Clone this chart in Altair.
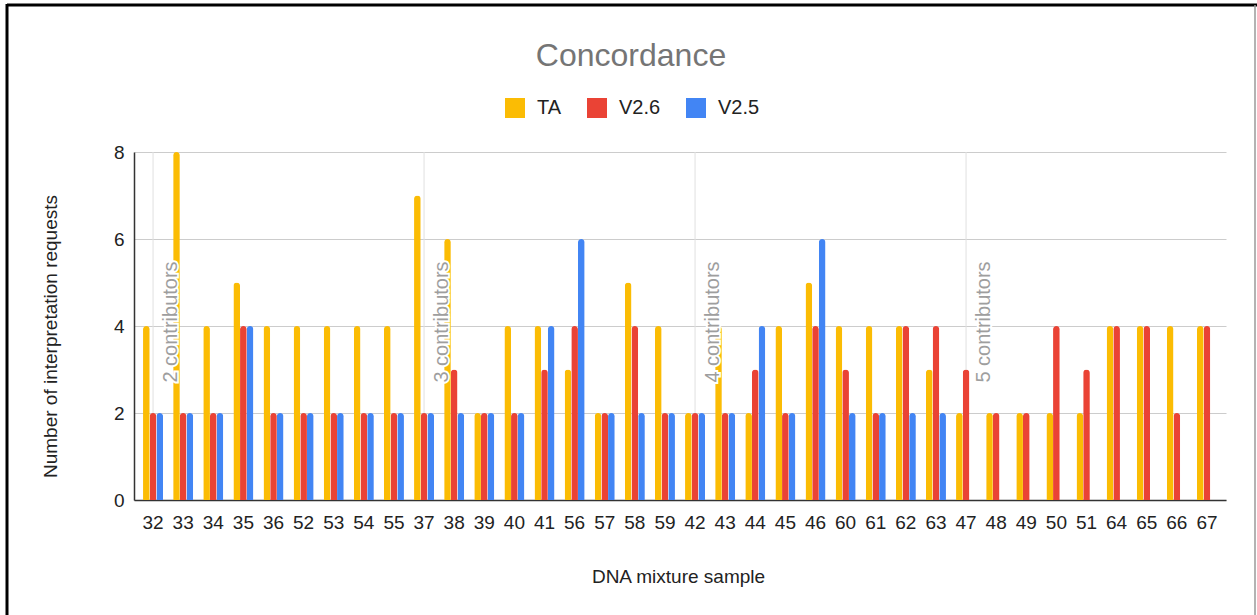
import altair as alt
import pandas as pd

samples = ["32", "33", "34", "35", "36", "52", "53", "54", "55",
           "37", "38", "39", "40", "41", "56", "57", "58", "59",
           "42", "43", "44", "45", "46", "60", "61", "62", "63",
           "47", "48", "49", "50", "51", "64", "65", "66", "67"]
ta = [4, 8, 4, 5, 4, 4, 4, 4, 4,
      7, 6, 2, 4, 4, 3, 2, 5, 4,
      2, 4, 2, 4, 5, 4, 4, 4, 3,
      2, 2, 2, 2, 2, 4, 4, 4, 4]
v26 = [2, 2, 2, 4, 2, 2, 2, 2, 2,
       2, 3, 2, 2, 3, 4, 2, 4, 2,
       2, 2, 3, 2, 4, 3, 2, 4, 4,
       3, 2, 2, 4, 3, 4, 4, 2, 4]
v25 = [2, 2, 2, 4, 2, 2, 2, 2, 2,
       2, 2, 2, 2, 4, 6, 2, 2, 2,
       2, 2, 4, 2, 6, 2, 2, 2, 2,
       None, None, None, None, None, None, None, None, None]
series_names = ["TA", "V2.6", "V2.5"]
series_colors = ["#fbbc04", "#ea4335", "#4285f4"]

group_samples = ["32", "37", "42", "47"]
group_labels = ["2 contributors", "3 contributors", "4 contributors", "5 contributors"]
group_label_y = [4, 4, 4, 4]

chart_title = "Concordance"

FONT = "Liberation Sans"
W, H = 1092, 348

rows = []
for name, vals in zip(series_names, [ta, v26, v25]):
    for s, v in zip(samples, vals):
        if v is not None:
            rows.append({"sample": s, "series": name, "value": v})
df = pd.DataFrame(rows)
groups = pd.DataFrame({"sample": group_samples, "label": group_labels, "y": group_label_y})
dummy = pd.DataFrame({"t": [chart_title]})

xscale = alt.Scale(domain=samples, paddingInner=0.335, paddingOuter=0.30)
yscale = alt.Scale(domain=[0, 8], nice=False)

x_axis = alt.Axis(title="DNA mixture sample", labelAngle=0, ticks=False,
                  labelPadding=13, labelFontSize=19, labelColor="#222222",
                  titleFontSize=19, titleColor="#222222", titleFontWeight="normal",
                  titleY=76, titleBaseline="middle", titleX=544,
                  domainColor="#333333", domainWidth=1.5, grid=False)
y_axis = alt.Axis(title="Number of interpretation requests", values=[0, 2, 4, 6, 8],
                  ticks=False, labelPadding=10, labelFontSize=19, labelColor="#222222",
                  titleFontSize=19, titleColor="#222222", titleFontWeight="normal",
                  titleX=-84, titleY=184, titleBaseline="middle", titleAngle=-90,
                  titleAlign="center",
                  domainColor="#333333", domainWidth=1.5,
                  grid=True, gridColor="#cccccc", gridWidth=1)

vgrid = alt.Chart(groups).mark_rule(color="#e0e0e0", strokeWidth=1).encode(
    x=alt.X("sample:N", scale=xscale, sort=samples, axis=x_axis),
    y=alt.value(0),
    y2=alt.value(H),
)

bars = alt.Chart(df).mark_bar(cornerRadiusEnd=3.5).encode(
    x=alt.X("sample:N", scale=xscale, sort=samples, axis=x_axis),
    xOffset=alt.XOffset("series:N", sort=series_names,
                        scale=alt.Scale(domain=series_names, paddingInner=0, paddingOuter=0)),
    y=alt.Y("value:Q", scale=yscale, axis=y_axis),
    color=alt.Color("series:N", sort=series_names,
                    scale=alt.Scale(domain=series_names, range=series_colors),
                    legend=alt.Legend(title=None, orient="none", direction="horizontal",
                                      legendX=371, legendY=-54, padding=0,
                                      symbolType="square", symbolSize=400,
                                      symbolStrokeWidth=0, symbolOpacity=1,
                                      labelFontSize=20, labelColor="#222222",
                                      labelOffset=12, columnPadding=25)),
)

halo = alt.Chart(groups).mark_text(
    angle=270, align="center", baseline="alphabetic", dy=24, dx=4,
    fontSize=20, font=FONT, color="white", stroke="white", strokeWidth=4,
).encode(
    x=alt.X("sample:N", scale=xscale, sort=samples, axis=x_axis),
    y=alt.Y("y:Q", scale=yscale, axis=y_axis),
    text="label:N",
)
labels = alt.Chart(groups).mark_text(
    angle=270, align="center", baseline="alphabetic", dy=24, dx=4,
    fontSize=20, font=FONT, color="#9e9e9e",
).encode(
    x=alt.X("sample:N", scale=xscale, sort=samples, axis=x_axis),
    y=alt.Y("y:Q", scale=yscale, axis=y_axis),
    text="label:N",
)

title_mark = alt.Chart(dummy).mark_text(
    fontSize=32, font=FONT, color="#757575", align="center", baseline="middle",
).encode(x=alt.value(497), y=alt.value(-96), text="t:N")

frame_top = alt.Chart(dummy).mark_rule(color="black", strokeWidth=3).encode(
    x=alt.value(-127), x2=alt.value(1123), y=alt.value(-147))
frame_left = alt.Chart(dummy).mark_rule(color="black", strokeWidth=3).encode(
    x=alt.value(-127), y=alt.value(-148), y2=alt.value(463))
frame_right = alt.Chart(dummy).mark_rule(color="#9a9a9a", strokeWidth=1.5).encode(
    x=alt.value(1121), y=alt.value(-147), y2=alt.value(463))

chart = alt.layer(vgrid, bars, halo, labels, title_mark,
                  frame_top, frame_left, frame_right).properties(
    width=W, height=H,
    autosize=alt.AutoSizeParams(type="none"),
    padding={"left": 134, "top": 152, "right": 31, "bottom": 115},
).configure(
    font=FONT,
).configure_view(stroke=None).configure_legend(labelFont=FONT)

chart.save("out.html", embed_options={"renderer": "svg", "actions": False})
